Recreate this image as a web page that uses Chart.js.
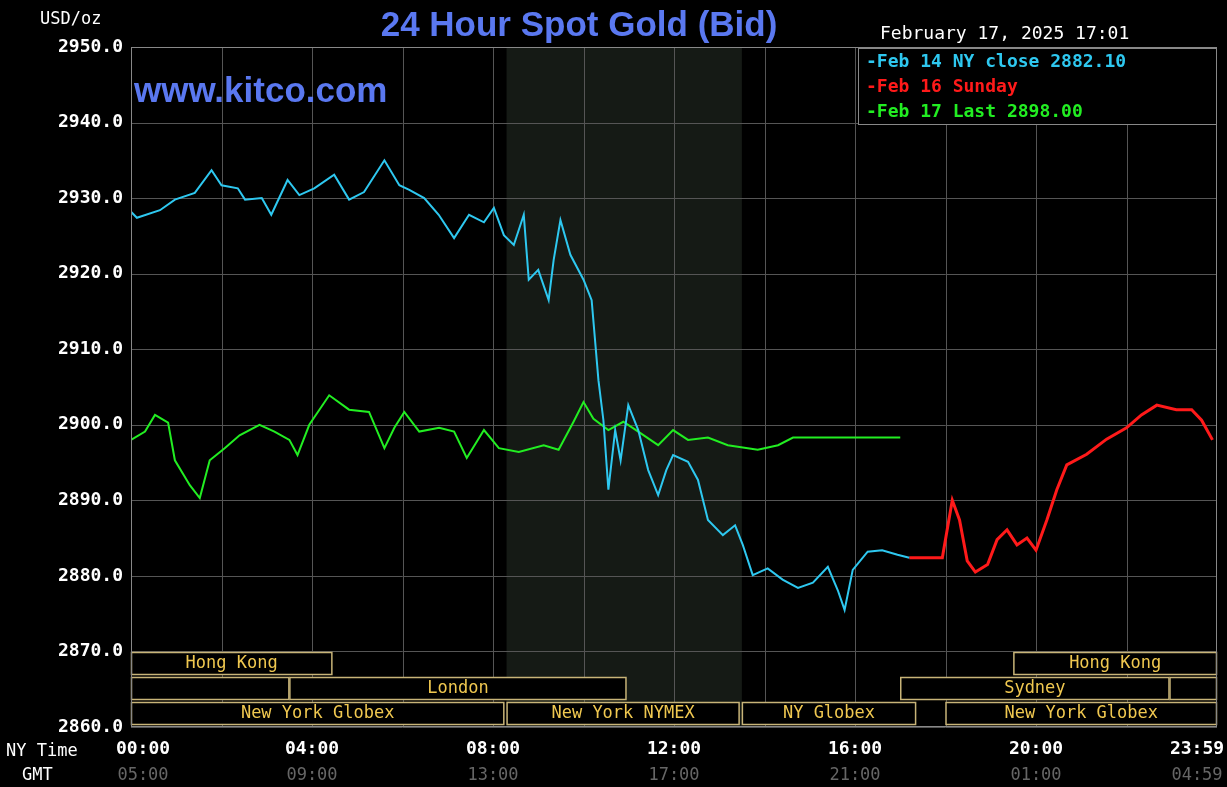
<!DOCTYPE html>
<html><head><meta charset="utf-8">
<script src="https://cdn.jsdelivr.net/npm/chart.js@4/dist/chart.umd.min.js"></script>
<style>html,body{margin:0;background:#000;}#w{width:1227px;height:787px;}</style>
</head><body><div id="w"><canvas id="c"></canvas></div>
<script>
const yTicks=[2860,2870,2880,2890,2900,2910,2920,2930,2940,2950];
const nyTimes=["00:00","04:00","08:00","12:00","16:00","20:00","23:59"];
const gmtTimes=["05:00","09:00","13:00","17:00","21:00","01:00","04:59"];
const tickHours=[0,4,8,12,16,20,24];
const feb14Hours=[0,0.13,0.64,0.97,1.41,1.78,2.0,2.36,2.52,2.89,3.1,3.46,3.72,4.05,4.49,4.82,5.15,5.6,5.93,6.15,6.48,6.8,7.14,7.47,7.8,8.02,8.24,8.46,8.68,8.79,9.0,9.23,9.34,9.49,9.71,10.0,10.18,10.33,10.44,10.55,10.7,10.82,10.99,11.21,11.43,11.65,11.83,11.98,12.31,12.53,12.75,13.08,13.35,13.52,13.74,14.07,14.4,14.74,15.07,15.4,15.62,15.77,15.95,16.28,16.6,16.94,17.2];
const feb14Vals=[2928.2,2927.4,2928.4,2929.8,2930.7,2933.7,2931.7,2931.3,2929.8,2930.0,2927.8,2932.4,2930.4,2931.3,2933.1,2929.8,2930.8,2935.0,2931.7,2931.1,2930.0,2927.8,2924.7,2927.8,2926.8,2928.7,2925.1,2923.8,2927.8,2919.2,2920.5,2916.5,2921.8,2927.1,2922.5,2919.2,2916.5,2905.9,2900.6,2891.4,2899.3,2895.3,2902.6,2899.3,2894.0,2890.7,2894.0,2896.0,2895.1,2892.7,2887.4,2885.4,2886.7,2884.1,2880.1,2881.0,2879.5,2878.4,2879.1,2881.2,2878.1,2875.5,2880.8,2883.2,2883.4,2882.8,2882.4];
const feb16Hours=[17.2,17.93,18.15,18.31,18.48,18.66,18.93,19.14,19.36,19.58,19.8,20.0,20.24,20.46,20.68,21.12,21.56,22.0,22.33,22.67,23.1,23.44,23.66,23.9];
const feb16Vals=[2882.4,2882.4,2890.0,2887.4,2882.0,2880.5,2881.5,2884.8,2886.1,2884.1,2885.0,2883.4,2887.4,2891.4,2894.7,2896.1,2898.1,2899.6,2901.3,2902.6,2902.0,2902.0,2900.6,2898.0];
const feb17Hours=[0,0.31,0.53,0.82,0.97,1.3,1.52,1.74,2.07,2.4,2.84,3.17,3.5,3.68,3.94,4.38,4.82,5.26,5.6,5.82,6.04,6.37,6.81,7.14,7.42,7.8,8.13,8.57,9.12,9.45,9.78,10.0,10.22,10.55,10.88,11.21,11.65,11.98,12.31,12.75,13.19,13.85,14.3,14.63,17.0];
const feb17Vals=[2898.0,2899.1,2901.3,2900.3,2895.3,2892.0,2890.3,2895.3,2896.9,2898.6,2900.0,2899.1,2898.0,2896.0,2900.0,2903.9,2902.0,2901.7,2896.9,2899.6,2901.7,2899.1,2899.6,2899.1,2895.6,2899.3,2896.9,2896.4,2897.3,2896.7,2900.4,2903.0,2900.8,2899.3,2900.4,2899.1,2897.3,2899.3,2898.0,2898.3,2897.3,2896.7,2897.3,2898.3,2898.3];
const sessions=[
 {row:0,from:0,to:4.45,label:"Hong Kong"},{row:0,from:19.5,to:24,label:"Hong Kong"},
 {row:1,from:0,to:3.5,label:""},{row:1,from:3.5,to:10.95,label:"London"},{row:1,from:17.0,to:22.95,label:"Sydney"},{row:1,from:22.95,to:24,label:""},
 {row:2,from:0,to:8.25,label:"New York Globex"},{row:2,from:8.3,to:13.45,label:"New York NYMEX"},{row:2,from:13.5,to:17.35,label:"NY Globex"},{row:2,from:18.0,to:24,label:"New York Globex"}];
const pts=(h,v)=>h.map((x,i)=>({x,y:v[i]}));
const deco={id:'deco',
 beforeDatasetsDraw(ch){const {ctx,scales:{x,y},chartArea:a}=ch;ctx.save();ctx.fillStyle='#151a15';
  ctx.fillRect(x.getPixelForValue(8.3),a.top,x.getPixelForValue(13.5)-x.getPixelForValue(8.3),a.bottom-a.top);
  ctx.strokeStyle='#555';ctx.lineWidth=1;
  for(let h=2;h<24;h+=2){const px=Math.round(x.getPixelForValue(h))+0.5;ctx.beginPath();ctx.moveTo(px,a.top);ctx.lineTo(px,a.bottom);ctx.stroke();}
  for(const v of yTicks){const py=Math.round(y.getPixelForValue(v))+0.5;ctx.beginPath();ctx.moveTo(a.left,py);ctx.lineTo(a.right,py);ctx.stroke();}
  ctx.restore();},
 afterDatasetsDraw(ch){const {ctx,scales:{x,y},chartArea:a}=ch;ctx.save();
  const rowTop=[652,677,702];
  ctx.font='17px "DejaVu Sans Mono"';ctx.textAlign='center';ctx.textBaseline='middle';
  for(const s of sessions){const x0=x.getPixelForValue(s.from),x1=x.getPixelForValue(s.to),t=rowTop[s.row];
   ctx.fillStyle='#000';ctx.fillRect(x0,t,x1-x0,23);ctx.strokeStyle='#c8b478';ctx.lineWidth=1.5;ctx.strokeRect(x0+0.5,t+0.5,x1-x0-1,22);
   ctx.fillStyle='#f0c850';ctx.fillText(s.label,(x0+x1)/2,t+12);}
  ctx.strokeStyle='#888';ctx.lineWidth=1;ctx.strokeRect(a.left+0.5,a.top+0.5,a.right-a.left-1,a.bottom-a.top-1);
  ctx.font='bold 18px "DejaVu Sans Mono"';ctx.textAlign='right';ctx.fillStyle='#fff';
  for(const v of yTicks)ctx.fillText(v.toFixed(1),123,y.getPixelForValue(v));
  ctx.textAlign='left';ctx.font='17px "DejaVu Sans Mono"';ctx.fillText('USD/oz',40,20);
  ctx.textAlign='center';
  tickHours.forEach((h,i)=>{let px=x.getPixelForValue(h);if(h===24)px-=20;if(h===0)px+=12;
   ctx.fillStyle='#fff';ctx.font='bold 18px "DejaVu Sans Mono"';ctx.fillText(nyTimes[i],px,749);
   ctx.fillStyle='#666';ctx.font='17px "DejaVu Sans Mono"';ctx.fillText(gmtTimes[i],px,776);});
  ctx.textAlign='left';ctx.fillStyle='#fff';ctx.font='17px "DejaVu Sans Mono"';ctx.fillText('NY Time',6,752);ctx.fillText('GMT',22,776);
  ctx.font='bold 35px "Liberation Sans"';ctx.textAlign='center';ctx.fillStyle='#5a78f0';ctx.fillText('24 Hour Spot Gold (Bid)',579,26);
  ctx.font='bold 35px "Liberation Sans"';ctx.textAlign='left';ctx.fillStyle='#5a78f0';ctx.fillText('www.kitco.com',134,92);
  ctx.fillStyle='#000';ctx.fillRect(858,48,358,76);ctx.strokeStyle='#888';ctx.strokeRect(858.5,48.5,358,76);
  ctx.fillStyle='#fff';ctx.font='18px "DejaVu Sans Mono"';ctx.fillText('February 17, 2025 17:01',880,34);
  ctx.font='bold 18px "DejaVu Sans Mono"';
  [['-Feb 14 NY close 2882.10','#2ec8f0'],['-Feb 16 Sunday','#ff1a1a'],['-Feb 17 Last 2898.00','#22ee22']].forEach((r,i)=>{ctx.fillStyle=r[1];ctx.fillText(r[0],866,62+i*25);});
  ctx.restore();}};
new Chart(document.getElementById('c'),{type:'line',
 data:{datasets:[
  {data:pts(feb14Hours,feb14Vals),borderColor:'#2ec8f0',borderWidth:2},
  {data:pts(feb16Hours,feb16Vals),borderColor:'#ff1a1a',borderWidth:3},
  {data:pts(feb17Hours,feb17Vals),borderColor:'#22ee22',borderWidth:2}]},
 options:{responsive:true,maintainAspectRatio:false,animation:false,
  elements:{point:{radius:0},line:{tension:0}},
  layout:{padding:{left:131,right:10,top:47,bottom:60}},
  plugins:{legend:{display:false},tooltip:{enabled:false}},
  scales:{x:{type:'linear',min:0,max:24,display:false},y:{min:2860,max:2950,display:false}}},
 plugins:[deco]});
</script></body></html>
